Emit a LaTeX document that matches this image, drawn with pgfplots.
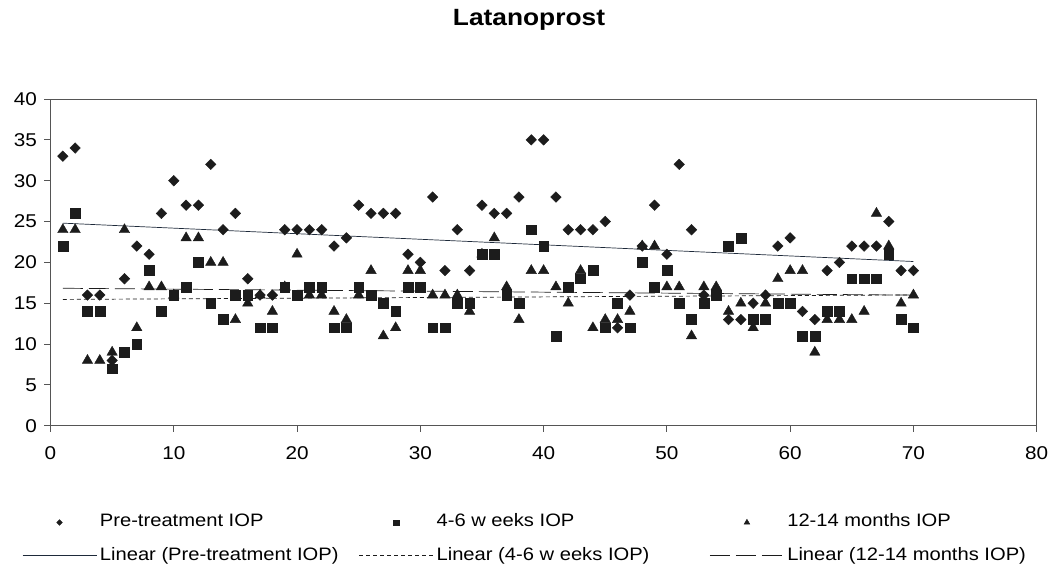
\documentclass[border=0pt]{standalone}
\usepackage{fontspec}
\setmainfont[FakeStretch=1.12]{Liberation Sans}
\usepackage{pgfplots}
\usepackage{pgfplotstable}
\pgfplotsset{compat=1.18}
\definecolor{mk}{HTML}{1C1C1C}
\definecolor{axc}{HTML}{555555}
\definecolor{trend}{HTML}{1E2A3A}

\pgfplotstableread{
x pre w6 m12
1 33 22 24
2 34 26 24
3 16 14 8
4 16 14 8
5 8 7 9
6 18 9 24
7 22 10 12
8 21 19 17
9 26 14 17
10 30 16 16
11 27 17 23
12 27 20 23
13 32 15 20
14 24 13 20
15 26 16 13
16 18 16 15
17 16 12 16
18 16 12 14
19 24 17 17
20 24 16 21
21 24 17 16
22 24 17 16
23 22 12 14
24 23 12 13
25 27 17 16
26 26 16 19
27 26 15 11
28 26 14 12
29 21 17 19
30 20 17 19
31 28 12 16
32 19 12 16
33 24 15 16
34 19 15 14
35 27 21 21
36 26 21 23
37 26 16 17
38 28 15 13
39 35 24 19
40 35 22 19
41 28 11 17
42 24 17 15
43 24 18 19
44 24 19 12
45 25 12 13
46 12 15 13
47 16 12 14
48 22 20 22
49 27 17 22
50 21 19 17
51 32 15 17
52 24 13 11
53 16 15 17
54 16 16 17
55 13 22 14
56 13 23 15
57 15 13 12
58 16 13 15
59 22 15 18
60 23 15 19
61 14 11 19
62 13 11 9
63 19 14 13
64 20 14 13
65 22 18 13
66 22 18 14
67 22 18 26
68 25 21 22
69 19 13 15
70 19 12 16
}\data

\begin{document}
\begin{tikzpicture}
\begin{axis}[
  name=ax,
  scale only axis,
  width=986.2pt, height=326.8pt,
  xmin=0, xmax=80, ymin=0, ymax=40,
  xtick distance=10, ytick distance=5,
  tick pos=left,
  tick align=outside,
  major tick length=6pt,
  axis line style={axc, line width=0.9pt},
  tick style={axc, line width=0.9pt},
  tick label style={font=\fontsize{18.5}{20}\selectfont},
  xticklabel style={yshift=-11pt},
  yticklabel style={xshift=-4pt},
  /pgf/number format/assume math mode=true,
  title={Latanoprost},
  title style={at={(0.4852,1)}, anchor=base, yshift=67pt, font=\bfseries\fontsize{23.5}{26}\selectfont},
  legend columns=3,
  legend cell align=left,
  legend style={at={(0,0)}, anchor=north west, xshift=-28.5pt, yshift=-85pt,
    draw=none, fill=none, inner sep=0pt, row sep=10pt,
    font=\fontsize{18}{21}\selectfont,
    nodes={inner sep=3pt, text height=13pt, text depth=4pt}},
  legend image code/.code={\draw[mark repeat=2,mark phase=2,#1] plot coordinates {(0pt,0pt) (37pt,0pt) (74pt,0pt)};},
]
\addplot[only marks, mark=diamond*, mark size=5.3pt, mark options={xscale=1.33, fill=mk, draw=mk}, legend image post style={mark size=2.8pt}]
  table[x=x, y=pre] {\data};
\addlegendentry{\makebox[256pt][l]{Pre-treatment IOP}}
\addplot[only marks, mark=square*, mark size=4.9pt, mark options={fill=mk, draw=mk}, legend image post style={mark size=2.6pt}]
  table[x=x, y=w6] {\data};
\addlegendentry{\makebox[270pt][l]{4-6 w eeks IOP}}
\addplot[only marks, mark=triangle*, mark size=6pt, mark options={fill=mk, draw=mk}, legend image post style={mark size=3.3pt}]
  table[x=x, y=m12] {\data};
\addlegendentry{\makebox[240pt][l]{12-14 months IOP}}
\addplot[trend, line width=0.7pt, no markers]
  table[x=x, y={create col/linear regression={y=pre}}] {\data};
\addlegendentry{\makebox[256pt][l]{Linear (Pre-treatment IOP)}}
\addplot[mk, line width=0.7pt, no markers, dash pattern=on 4pt off 3pt]
  table[x=x, y={create col/linear regression={y=w6}}] {\data};
\addlegendentry{\makebox[270pt][l]{Linear (4-6 w eeks IOP)}}
\addplot[mk, line width=0.7pt, no markers, dash pattern=on 20pt off 6pt]
  table[x=x, y={create col/linear regression={y=m12}}] {\data};
\addlegendentry{\makebox[240pt][l]{Linear (12-14 months IOP)}}
\end{axis}
\pgfresetboundingbox
\path ([shift={(-50.5pt,-143.2pt)}]ax.south west) rectangle ([shift={(14.3pt,99pt)}]ax.north east);
\end{tikzpicture}
\end{document}
